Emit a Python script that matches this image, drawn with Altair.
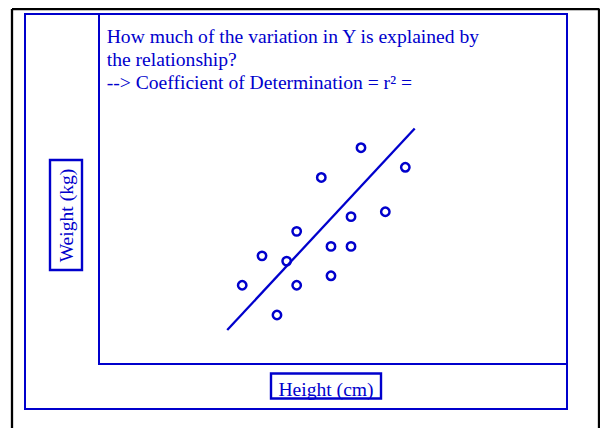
import altair as alt
import pandas as pd

BLUE = "#0000CC"
FONT = "Liberation Serif"

# Scatter data (unitless 0-100 scale)
heights = [55.98, 65.45, 47.5, 61.18, 53.85, 42.24, 49.57, 53.85, 34.83, 40.1, 30.6, 42.24, 49.57, 38.03]
weights = [61.8, 56.2, 53.3, 43.5, 42.1, 37.9, 33.6, 33.6, 30.9, 29.4, 22.5, 22.5, 25.2, 14.0]

# Regression line end points
fit_heights = [27.4, 67.46]
fit_weights = [9.7, 67.3]

question_lines = [
    "How much of the variation in Y is explained by",
    "the relationship?",
    "--> Coefficient of Determination = r\u00b2 =",
]
x_label = "Height (cm)"
y_label = "Weight (kg)"

pts = pd.DataFrame({"height": heights, "weight": weights})
fit = pd.DataFrame({"height": fit_heights, "weight": fit_weights})
dummy = pd.DataFrame({"a": [0]})

xs = alt.Scale(domain=[0, 100], nice=False, zero=False)
ys = alt.Scale(domain=[0, 100], nice=False, zero=False)

# Decorative frames
black_top = alt.Chart(dummy).mark_rule(color="black", strokeWidth=2.3).encode(
    x=alt.value(-87), x2=alt.value(500.5), y=alt.value(-5))
black_left = alt.Chart(dummy).mark_rule(color="black", strokeWidth=2.3).encode(
    x=alt.value(-87), y=alt.value(-5), y2=alt.value(414))
black_right = alt.Chart(dummy).mark_rule(color="black", strokeWidth=2.3).encode(
    x=alt.value(500), y=alt.value(-5), y2=alt.value(414))

outer = alt.Chart(dummy).mark_rect(fill="white", fillOpacity=0, stroke=BLUE, strokeWidth=2).encode(
    x=alt.value(-74), x2=alt.value(468), y=alt.value(0), y2=alt.value(395))

ybox = alt.Chart(dummy).mark_rect(fill="white", fillOpacity=0, stroke=BLUE, strokeWidth=2.4).encode(
    x=alt.value(-49), x2=alt.value(-17), y=alt.value(146), y2=alt.value(256))
xbox = alt.Chart(dummy).mark_rect(fill="white", fillOpacity=0, stroke=BLUE, strokeWidth=2.4).encode(
    x=alt.value(172), x2=alt.value(282), y=alt.value(359.5), y2=alt.value(384.5))

ytext = alt.Chart(dummy).mark_text(
    text=y_label, font=FONT, fontSize=19.6, color=BLUE, angle=270,
    align="center", baseline="alphabetic").encode(x=alt.value(-26.5), y=alt.value(201.5))
xtext = alt.Chart(dummy).mark_text(
    text=x_label, font=FONT, fontSize=19.6, color=BLUE,
    align="center", baseline="alphabetic").encode(x=alt.value(227), y=alt.value(381.5))

question = alt.Chart(dummy).mark_text(
    text=question_lines, font=FONT, fontSize=19.6, color=BLUE, lineHeight=23,
    align="left", baseline="alphabetic").encode(x=alt.value(7.7), y=alt.value(28.5))

points = alt.Chart(pts).mark_point(
    shape="circle", filled=False, size=70, strokeWidth=2.5, color=BLUE, opacity=1).encode(
    x=alt.X("height:Q", scale=xs, axis=None),
    y=alt.Y("weight:Q", scale=ys, axis=None))

line = alt.Chart(fit).mark_line(color=BLUE, strokeWidth=2.3).encode(
    x=alt.X("height:Q", scale=xs, axis=None),
    y=alt.Y("weight:Q", scale=ys, axis=None))

chart = alt.layer(
    black_top, black_left, black_right, outer, ybox, xbox, ytext, xtext, question, line, points
).properties(
    width=468, height=350,
    autosize=alt.AutoSizeParams(type="none"),
    padding={"left": 91, "top": 6, "right": 33, "bottom": 64},
    background="white",
).configure_view(stroke=BLUE, strokeWidth=2)

chart.save("out.html", embed_options={"renderer": "svg", "actions": False})
